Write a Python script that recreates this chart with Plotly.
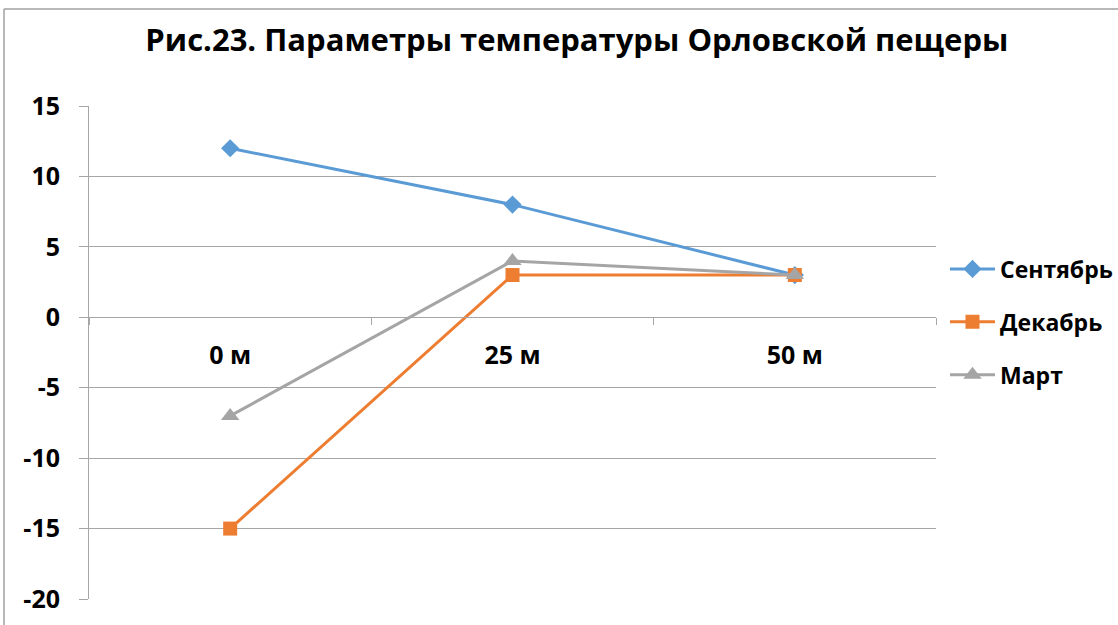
import plotly.graph_objects as go

# Temperature readings at three depths, by month
depths = ["0 м", "25 м", "50 м"]
sep_vals = [12, 8, 3]
dec_vals = [-15, 3, 3]
mar_vals = [-7, 4, 3]
y_ticks = [15, 10, 5, 0, -5, -10, -15, -20]

series = [
    ("Сентябрь", sep_vals, "#5B9BD5", "diamond", 14),
    ("Декабрь", dec_vals, "#ED7D31", "square", 14),
    ("Март", mar_vals, "#A5A5A5", "triangle-up", 16),
]

FONT = "Open Sans"
GRID = "#A6A6A6"

# Pixel layout: plot area 89..936 horizontally, 106..599 vertically
W, H = 1118, 625
L, R, T, B = 89, 0, 106, 26
PW, PH = W - L - R, H - T - B
PLOT_RIGHT = 936


def px_x(x):
    return (x - L) / PW


def px_y(y):
    return (H - B - y) / PH


fig = go.Figure()
for i, (name, vals, color, symbol, size) in enumerate(series):
    fig.add_trace(go.Scatter(
        x=depths, y=vals, name=f"<b>{name}</b>", mode="lines+markers",
        line=dict(color=color, width=3),
        marker=dict(symbol=symbol, size=size, color=color),
        legendgroup=f"g{i}",
    ))

ymin, ymax = -20, 15
fig.update_layout(
    width=W, height=H,
    margin=dict(l=L, r=R, t=T, b=B),
    paper_bgcolor="white", plot_bgcolor="white",
    font=dict(family=FONT, color="black"),
    title=dict(
        text="<b>Рис.23. Параметры температуры Орловской пещеры</b>",
        x=0.516, xanchor="center", y=0.935, yanchor="middle",
        font=dict(size=31, family=FONT, color="black"),
    ),
    showlegend=True,
    legend=dict(
        x=1.0, xanchor="right", y=px_y(322), yanchor="middle",
        font=dict(size=23, family=FONT, color="black"),
        tracegroupgap=20, itemwidth=45,
        bgcolor="rgba(0,0,0,0)",
    ),
    xaxis=dict(
        type="category", range=[-0.5, 2.5],
        domain=[0, px_x(PLOT_RIGHT)],
        anchor="free", position=(0 - ymin) / (ymax - ymin),
        showline=True, linecolor=GRID, linewidth=1,
        ticks="outside", tickson="boundaries", ticklen=7, tickcolor=GRID,
        showgrid=False, zeroline=False,
        tickfont=dict(size=25, family=FONT, color="black"),
        tickprefix="<b>", ticksuffix="</b>",
        ticklabelstandoff=16,
    ),
    yaxis=dict(
        range=[ymin, ymax], tickvals=y_ticks,
        ticktext=[f"<b>{v}</b>" for v in y_ticks],
        showline=True, linecolor=GRID, linewidth=1,
        showgrid=True, gridcolor=GRID, gridwidth=1,
        zeroline=False,
        ticks="outside", ticklen=9, tickcolor=GRID,
        tickfont=dict(size=25, family=FONT, color="black"),
        ticklabelstandoff=14,
    ),
)

# Chart frame (left and top edges)
fig.add_shape(type="line", xref="paper", yref="paper",
              x0=px_x(4), x1=px_x(4), y0=px_y(9), y1=px_y(640),
              line=dict(color="#A0A0A0", width=1.5))
fig.add_shape(type="line", xref="paper", yref="paper",
              x0=px_x(4), x1=px_x(1130), y0=px_y(9), y1=px_y(9),
              line=dict(color="#A0A0A0", width=1.5))

fig.write_html("out.html")
